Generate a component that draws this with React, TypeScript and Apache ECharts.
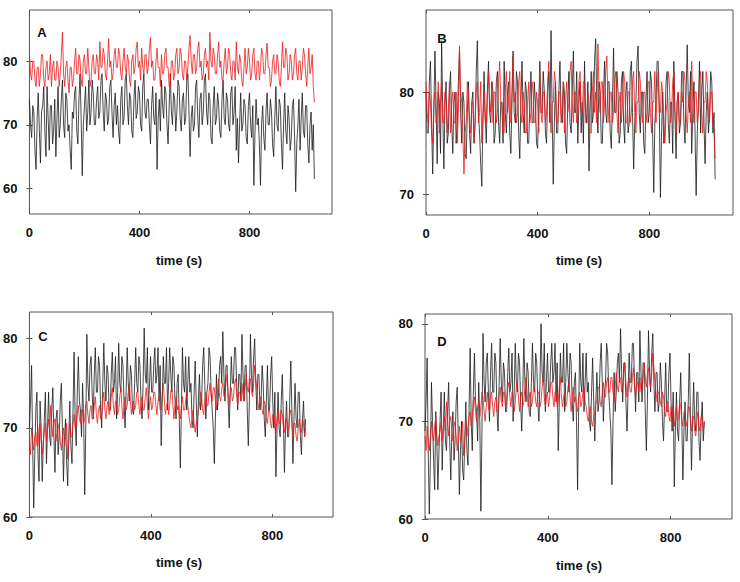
import React, { useEffect, useRef } from "react";
import * as echarts from "echarts";

// Sampling interval of each recording (seconds)
const STEP_AB = 4;
const STEP_CD = 3.5;

// Panel A
const aBlack = [
  74, 70, 68, 73, 72, 66, 63, 71, 75, 69, 64, 72, 73, 76, 69, 65, 76, 71, 66, 73,
  73, 67, 69, 74, 65, 71, 76, 68, 70, 74, 77, 70, 68, 75, 74, 69, 70, 66, 63, 72,
  71, 75, 76, 69, 67, 74, 78, 71, 62, 70, 73, 76, 69, 72, 77, 70, 72, 77, 75, 70,
  70, 74, 76, 71, 72, 77, 78, 72, 69, 75, 74, 70, 71, 76, 77, 72, 68, 73, 75, 70,
  73, 69, 67, 74, 76, 70, 71, 77, 78, 73, 70, 75, 74, 69, 68, 74, 77, 71, 72, 76,
  75, 70, 69, 76, 78, 72, 71, 74, 74, 70, 67, 73, 76, 71, 70, 75, 63, 71, 74, 69,
  77, 73, 71, 76, 75, 70, 67, 73, 78, 72, 70, 75, 74, 69, 72, 77, 76, 71, 69, 74,
  75, 70, 71, 77, 78, 72, 65, 71, 73, 69, 70, 76, 77, 71, 68, 74, 75, 70, 72, 77,
  78, 72, 70, 75, 74, 68, 67, 73, 76, 70, 71, 75, 73, 69, 68, 74, 77, 71, 70, 75,
  74, 70, 69, 75, 76, 70, 72, 76, 66, 71, 64, 70, 75, 69, 70, 74, 73, 68, 67, 73,
  75, 70, 68, 73, 60.5, 69, 74, 70, 71, 67, 60.5, 70, 73, 68, 66, 72, 75, 70, 70, 74,
  72, 67, 65, 71, 76, 70, 69, 74, 73, 67, 63, 70, 75, 69, 67, 73, 71, 66, 68, 73,
  74, 68, 59.5, 67, 70, 74, 66, 71, 75, 69, 68, 73, 73, 67, 64, 70, 72, 66, 70, 61.5,
];
const aRed = [
  81, 78, 77, 80, 80, 77, 76, 79, 79, 76, 78, 81, 81, 77, 76, 79, 80, 77, 78, 81,
  76, 79, 80, 77, 77, 80, 79, 76, 78, 81, 84.5, 78, 76, 79, 80, 77, 75, 79, 79, 76,
  77, 80, 82, 78, 78, 81, 80, 77, 76, 80, 81, 78, 78, 82, 79, 76, 77, 80, 81, 78,
  78, 81, 80, 77, 83, 79, 79, 82, 81, 78, 77, 80, 83.5, 79, 80, 77, 78, 81, 82, 79,
  79, 82, 81, 78, 77, 80, 82, 79, 78, 81, 80, 77, 76, 80, 81, 78, 79, 82, 83, 79,
  80, 77, 82, 79, 78, 81, 81, 78, 79, 82, 83.7, 79, 80, 77, 77, 80, 82, 79, 79, 76,
  81, 78, 78, 81, 82, 79, 79, 76, 76, 80, 80, 77, 78, 81, 82, 78, 79, 82, 81, 78,
  77, 80, 80, 77, 79, 82, 84, 80, 78, 81, 81, 78, 79, 82, 83, 79, 80, 77, 78, 81,
  82, 79, 80, 77, 84.5, 80, 79, 82, 81, 78, 78, 81, 83, 79, 80, 77, 77, 80, 82, 78,
  79, 82, 81, 78, 77, 80, 80, 77, 83, 79, 78, 81, 80, 77, 76, 79, 82, 78, 79, 82,
  80, 77, 78, 81, 82, 78, 77, 80, 80, 77, 79, 82, 81, 78, 78, 81, 82.8, 79, 79, 76,
  77, 80, 81, 78, 78, 81, 80, 77, 76, 79, 83, 79, 79, 82, 81, 77, 78, 81, 80, 77,
  78, 81, 82, 78, 77, 80, 80, 77, 79, 82, 81, 78, 76, 79, 82, 78, 79, 81, 76, 73.5,
];

// Panel B
const bBlack = [
  80, 76, 76, 81, 83, 77, 72, 78, 84, 79, 73, 80, 79, 74, 85, 78, 72.5, 79, 81, 75,
  76, 80, 82, 77, 74, 79, 80, 75, 77, 81, 84, 78, 75, 80, 79, 74, 73.5, 78, 81, 76,
  74, 79, 80, 75, 77, 82, 85, 78, 76, 73, 70.8, 77, 82, 78, 75, 80, 83, 78, 77, 81,
  80, 75, 76, 81, 82, 77, 75, 79, 79, 75, 83, 78, 76, 80, 81, 76, 74, 79, 84, 78,
  77, 82, 81, 76, 73.5, 79, 83, 78, 76, 81, 80, 75, 75, 79, 82, 77, 77, 81, 79, 75,
  74.5, 79, 83, 78, 78, 82, 80, 76, 75, 80, 82, 77, 86, 78, 71, 77, 81, 76, 76, 80,
  83, 78, 77, 81, 80, 75, 74, 79, 82, 77, 76, 80, 84, 78, 78, 82, 75, 79, 81, 76,
  79, 75, 83, 78, 77, 81, 72.3, 78, 82, 77, 78, 83, 85.2, 79, 76, 81, 80, 75, 75, 80,
  83, 78, 77, 81, 81, 76, 74.5, 79, 84.3, 78, 78, 82, 80, 75, 76, 81, 82, 77, 75, 80,
  81, 76, 77, 82, 83, 78, 72.5, 77, 79, 83, 84.5, 78, 76, 80, 80, 75, 74, 79, 82, 77,
  78, 82, 81, 76, 70.2, 77, 79, 83, 83, 78, 69.7, 76, 80, 75, 76, 81, 82, 77, 75, 79,
  79, 74, 83, 78, 73.5, 79, 80, 76, 77, 82, 82, 77, 75, 80, 84.6, 79, 78, 82, 74, 78,
  81, 76, 69.9, 76, 79, 83, 76, 80, 82, 77, 73, 78, 80, 76, 78, 82, 81, 76, 78, 71.5,
];
const bRed = [
  81, 78, 77, 80, 79, 76, 75, 79, 80, 77, 78, 81, 76, 79, 81, 77, 77, 80, 79, 76,
  78, 81, 76, 79, 80, 77, 77, 80, 75, 78, 84.5, 80, 79, 76, 72, 76, 77, 81, 80, 77,
  76, 79, 79, 75, 77, 80, 81, 77, 78, 81, 75, 78, 80, 77, 77, 80, 82, 79, 78, 81,
  77, 80, 80, 77, 78, 81, 83, 79, 79, 76, 76, 80, 82, 78, 79, 82, 77, 80, 83.5, 79,
  80, 77, 78, 81, 82, 78, 77, 80, 79, 76, 76, 79, 81, 77, 78, 81, 80, 77, 77, 80,
  79, 76, 82, 78, 77, 80, 80, 77, 78, 81, 83, 79, 76, 79, 79, 82, 81, 77, 77, 80,
  80, 77, 78, 81, 76, 79, 81, 78, 79, 82, 83, 79, 77, 80, 80, 77, 78, 81, 82, 78,
  78, 81, 81, 77, 77, 80, 79, 76, 76, 80, 82, 78, 80, 77, 84.7, 80, 78, 81, 81, 77,
  79, 82, 83.5, 79, 77, 80, 80, 77, 78, 81, 82, 78, 76, 79, 80, 77, 79, 82, 81, 77,
  77, 80, 80, 77, 78, 81, 82, 78, 76, 79, 79, 82, 81, 78, 77, 80, 80, 77, 78, 81,
  81, 78, 76, 79, 79, 82, 77, 80, 82, 78, 78, 81, 80, 77, 75, 78, 79, 82, 81, 77,
  78, 81, 82, 78, 76, 79, 80, 77, 77, 80, 79, 82, 81, 78, 76, 79, 80, 77, 83, 79,
  77, 80, 80, 77, 78, 81, 82, 78, 76, 79, 79, 82, 81, 78, 77, 80, 80, 77, 76, 73.5,
];

// Panel C
const cBlack = [
  70, 73, 77, 68, 61, 67, 72, 74, 67, 64, 73, 70, 64, 68, 71, 74, 66, 70, 74, 69,
  68, 72, 74.5, 69, 65, 71, 72, 67, 69, 73, 75, 70, 64, 69, 71, 66, 63.5, 69, 73, 68,
  66, 72, 78.5, 71, 68, 74, 78, 73, 72, 69, 75, 71, 62.5, 70, 80.5, 75, 73, 77, 78, 74,
  71, 76, 79, 74, 74, 78, 77, 72, 70, 75, 79.5, 75, 73, 77, 76, 72, 72, 76, 78.5, 74,
  75, 78, 71, 74, 79.5, 75, 74, 78, 77, 73, 70, 74, 79, 75, 73, 77, 76, 72, 71.5, 75,
  79, 75, 74, 78, 77, 73, 71, 75, 81.2, 76, 75, 79, 72, 75, 78, 74, 74, 77, 79, 75,
  76, 79, 73, 77, 68, 73, 78, 75, 75, 79, 72, 75, 79, 76, 74, 78, 77, 73, 71, 75,
  76, 71, 65.5, 72, 79, 75, 74, 78, 72, 75, 78, 74, 75, 71, 70, 74, 77.5, 73, 69, 73,
  76, 72, 73, 77, 79, 75, 71, 74, 75, 79, 78, 74, 72, 70, 66, 71, 76, 72, 74, 77,
  78, 75, 80.8, 76, 73, 77, 77, 73, 70, 74, 78, 75, 75, 79, 79, 75, 72, 76, 76, 73,
  80.5, 76, 73, 77, 77, 72, 68, 73, 80.5, 76, 74, 78, 80, 75, 72, 76, 76, 72, 73, 77,
  75, 71, 69, 73, 77, 72, 72, 76, 78, 73, 70, 74, 64.5, 70, 74, 70, 69, 73, 76, 71,
  65, 70, 73, 69, 69, 73, 77.5, 72, 66, 71, 75, 71, 70, 74, 74, 69, 67, 71, 73, 69,
  71,
];
const cRed = [
  68.5, 67, 70, 68.5, 67.5, 69, 69.5, 68, 68, 70, 70.5, 68.5, 67, 68.5, 69.5, 70.5, 68.5, 70, 71, 69.5,
  72.5, 70.5, 69, 70.5, 71, 69.5, 68.5, 70, 70.5, 68.5, 67.5, 69, 70, 68, 69, 70.5, 66.5, 68.5, 70.5, 69,
  69, 70.5, 71.5, 70, 70, 71.5, 72.5, 71, 70.5, 72, 72, 70.5, 71, 72.5, 73, 71.5, 70.5, 72, 72.5, 71,
  71, 72.5, 73.5, 71.5, 70.5, 72, 72.5, 71, 71.5, 73, 74, 72, 71, 72.5, 73, 71.5, 72, 73.5, 74.5, 72.5,
  71.5, 73, 73, 71.5, 72, 73.5, 74.5, 72.5, 71, 72.5, 73.5, 72, 72.5, 74, 75, 73, 71.5, 72.5, 73, 72,
  72.5, 74, 74, 72.5, 71.5, 73, 73.5, 72, 72, 73.5, 74.5, 72.5, 71, 72.5, 73.5, 72, 72.5, 74, 74, 72.5,
  71.5, 73, 73.5, 72, 72, 74, 75, 73, 71.5, 72.5, 73, 71.5, 72.5, 74, 74.5, 72.5, 71, 72.5, 73.5, 72,
  72.5, 71.5, 71, 72.5, 73.5, 72, 72, 73, 74, 72.5, 71.5, 70.5, 70, 71, 72, 70.5, 69.5, 70.5, 71, 72,
  72.5, 74, 73.5, 72, 71.5, 73, 74, 72.5, 72.5, 74, 75, 73.5, 73, 74.5, 74.5, 73, 72, 74, 75.5, 73.5,
  73, 74.5, 75, 73.5, 73.5, 75, 76, 74, 72.5, 74, 74.5, 73, 73.5, 75, 75.5, 74, 72.5, 74, 74, 73,
  75, 73.5, 73, 74.5, 76, 74.5, 74, 75.5, 75.5, 74, 73.5, 75, 77, 75.5, 74.5, 73, 72, 73, 73.5, 72,
  71.5, 73, 72.5, 71, 70.5, 72, 72, 70.5, 70, 71.5, 71.5, 70, 69.5, 71, 72, 70.5, 70.5, 72, 71.5, 70,
  69.5, 71, 71, 69.5, 70, 71.5, 72, 70.5, 69, 70.5, 70.5, 69, 68.5, 70, 71, 69.5, 69.5, 71, 70.5, 69,
  70,
];

// Panel D
const dBlack = [
  69, 72, 76.5, 67, 60.5, 66, 74, 70, 66, 63, 71, 68, 63, 67, 70, 73, 65, 69, 73, 68,
  67, 71, 74, 68, 64, 69, 71, 66, 68, 72, 73.5, 68, 62.5, 67, 70, 65, 64, 68, 72, 67,
  65.5, 71, 77.5, 70, 67, 73, 77, 72, 71, 68, 74, 70, 60.8, 69, 79, 74, 72, 76, 77, 73,
  70, 75, 78, 73, 73, 77, 76, 71, 69, 74, 78.5, 74, 72, 76, 75, 71, 71, 75, 77.5, 73,
  74, 77, 70, 73, 78, 74, 73, 77, 76, 72, 69, 73, 78.5, 74, 72, 76, 75, 71, 70.5, 74,
  78, 74, 73, 77, 76, 72, 70, 74, 80, 75, 74, 78, 71, 74, 77, 73, 73, 76, 78, 74,
  75, 78, 72, 76, 67, 72, 77, 74, 74, 78, 71, 74, 78, 75, 73, 77, 76, 72, 70, 74,
  75, 70, 63, 71, 78, 74, 73, 77, 71, 74, 77, 73, 74, 70, 69, 73, 76.5, 72, 68, 72,
  75, 71, 72, 76, 78, 74, 70, 73, 74, 78, 77, 73, 71, 69, 63.5, 70, 75, 71, 73, 76,
  77, 74, 79.5, 75, 72, 76, 76, 72, 69, 73, 77, 74, 74, 78, 78, 74, 71, 75, 75, 72,
  79.3, 75, 72, 76, 76, 71, 67, 72, 79.3, 75, 73, 77, 79, 74, 71, 75, 75, 71, 72, 76,
  74, 70, 68, 72, 76, 71, 71, 75, 77, 72, 69, 73, 63.3, 69, 73, 69, 68, 72, 75, 70,
  64, 69, 72, 68, 68, 72, 77, 71, 65, 70, 74, 70, 69, 73, 73, 68, 66, 70, 72, 68,
  70,
];
const dRed = [
  68.5, 67, 69.5, 68, 67, 68.5, 70, 68.5, 68, 69.5, 70.5, 68.5, 67.5, 68.5, 69, 70, 68, 69.5, 70.5, 69,
  72, 70, 68.5, 70, 70.5, 69, 68, 69.5, 70, 68.5, 67, 68.5, 69.5, 68, 68.5, 70, 66.5, 68, 70, 68.5,
  69.5, 70.5, 71, 69.5, 70.5, 72, 72.5, 71, 70, 71.5, 72, 70.5, 71.5, 73, 72.5, 71, 70, 71.5, 73, 71.5,
  71, 72.5, 73, 71.5, 70.5, 72, 72.5, 71, 71, 72.5, 73.5, 72, 71.5, 73, 73, 71.5, 72, 73.5, 74, 72.5,
  71.5, 73, 72.5, 71, 72, 73.5, 74, 72.5, 71, 72.5, 73, 71.5, 72, 73.5, 74.5, 73, 71.5, 72.5, 73, 71.5,
  72, 73.5, 73.5, 72, 71.5, 73, 73, 71.5, 72, 73.5, 74.5, 72.5, 71.5, 72.5, 73, 71.5, 72.5, 74, 74, 72.5,
  71.5, 73, 73, 71.5, 72, 73.5, 74.5, 72.5, 71.5, 72.5, 73, 71.5, 72, 73.5, 74, 72.5, 71, 72.5, 73.5, 72,
  72.5, 71.5, 71, 72.5, 73, 71.5, 72, 73, 73.5, 72, 71.5, 70.5, 70, 71, 71.5, 70, 69.5, 70.5, 71, 72,
  72, 73.5, 73.5, 72, 71.5, 73, 74, 72.5, 72.5, 74, 74.5, 73, 73, 74.5, 74.5, 73, 72, 73.5, 75, 73.5,
  73, 74.5, 74.5, 73, 73.5, 75, 76, 74, 72.5, 74, 74.5, 73, 73, 74.5, 75.5, 74, 72.5, 74, 74, 73,
  74.5, 73, 73, 74.5, 76, 74.5, 73.5, 75, 75.5, 74, 73.5, 75, 77, 75.5, 74, 73, 72, 73, 73, 72,
  71.5, 73, 72.5, 71, 70.5, 72, 72, 70.5, 70, 71.5, 71.5, 70, 69.5, 71, 71.5, 70, 70.5, 72, 71.5, 70,
  69.5, 71, 71, 69.5, 70, 71.5, 71.5, 70, 69, 70.5, 70.5, 69, 68.5, 70, 71, 69.5, 69, 70.5, 70.5, 69,
  70,
];

const xTicks = [0, 400, 800];
const yTicksA = [60, 70, 80];
const yTicksB = [70, 80];
const yTicksCD = [60, 70, 80];
const panelLetters = ["A", "B", "C", "D"];
const xTitle = "time (s)";

const FONT = "'Liberation Sans', Arial, sans-serif";
const FRAME = "#555";

const toPoints = (values: number[], step: number) => values.map((v, i) => [i * step, v]);

export default function App() {
  const ref = useRef<HTMLDivElement>(null);

  useEffect(() => {
    document.body.style.margin = "0";
    if (!ref.current) return;
    const chart = echarts.init(ref.current, undefined, { renderer: "svg" });

    const panels = [
      { grid: { left: 26, top: 10, width: 306, height: 204 }, xMax: 1100, yMin: 56, yMax: 88, yTicks: yTicksA, black: aBlack, red: aRed, step: STEP_AB },
      { grid: { left: 426, top: 10, width: 307, height: 205 }, xMax: 1100, yMin: 68, yMax: 88, yTicks: yTicksB, black: bBlack, red: bRed, step: STEP_AB },
      { grid: { left: 26, top: 312, width: 307, height: 205 }, xMax: 1000, yMin: 60, yMax: 83, yTicks: yTicksCD, black: cBlack, red: cRed, step: STEP_CD },
      { grid: { left: 425, top: 314, width: 307, height: 205 }, xMax: 1000, yMin: 60, yMax: 81, yTicks: yTicksCD, black: dBlack, red: dRed, step: STEP_CD },
    ];

    const labelStyle = { fontFamily: FONT, fontWeight: "bold" as const, fontSize: 13, color: "#111", margin: 12 };
    const tickStyle = { inside: true, length: 3, lineStyle: { color: FRAME, width: 1 } };

    const grids: any[] = [];
    const xAxes: any[] = [];
    const yAxes: any[] = [];
    const series: any[] = [];

    panels.forEach((p, i) => {
      grids.push({ ...p.grid, show: true, borderColor: FRAME, borderWidth: 1, backgroundColor: "#fff" });
      ["bottom", "top"].forEach((pos) => {
        xAxes.push({
          type: "value",
          gridIndex: i,
          position: pos,
          min: 0,
          max: p.xMax,
          axisLine: { show: false },
          splitLine: { show: false },
          axisTick: { ...tickStyle, customValues: xTicks },
          axisLabel: { ...labelStyle, show: pos === "bottom", customValues: xTicks },
        });
      });
      ["left", "right"].forEach((pos) => {
        yAxes.push({
          type: "value",
          gridIndex: i,
          position: pos,
          min: p.yMin,
          max: p.yMax,
          axisLine: { show: false },
          splitLine: { show: false },
          axisTick: { ...tickStyle, customValues: p.yTicks },
          axisLabel: { ...labelStyle, show: pos === "left", customValues: p.yTicks },
        });
      });
      series.push({
        type: "line",
        xAxisIndex: i * 2,
        yAxisIndex: i * 2,
        data: toPoints(p.black, p.step),
        showSymbol: false,
        lineStyle: { color: "#1a1a1a", width: 0.8 },
        z: 2,
      });
      series.push({
        type: "line",
        xAxisIndex: i * 2,
        yAxisIndex: i * 2,
        data: toPoints(p.red, p.step),
        showSymbol: false,
        lineStyle: { color: "#ee1a1a", width: 0.8 },
        z: 3,
      });
    });

    const textEl = (text: string, x: number, y: number) => ({
      type: "text",
      x,
      y,
      z: 10,
      style: {
        text,
        align: "center",
        verticalAlign: "middle",
        font: `bold 13px ${FONT}`,
        fill: "#111",
      },
    });

    const titlePos = [
      [179, 260],
      [579, 260],
      [179, 562],
      [579, 565],
    ];
    const letterPos = [
      [42, 32],
      [442, 38],
      [43, 336],
      [442, 341],
    ];

    const graphic = [
      ...titlePos.map(([x, y]) => textEl(xTitle, x, y)),
      ...letterPos.map(([x, y], i) => textEl(panelLetters[i], x, y)),
    ];

    chart.setOption({
      animation: false,
      backgroundColor: "#fff",
      grid: grids,
      xAxis: xAxes,
      yAxis: yAxes,
      series,
      graphic,
    });

    return () => chart.dispose();
  }, []);

  return <div ref={ref} style={{ width: 740, height: 582 }} />;
}
